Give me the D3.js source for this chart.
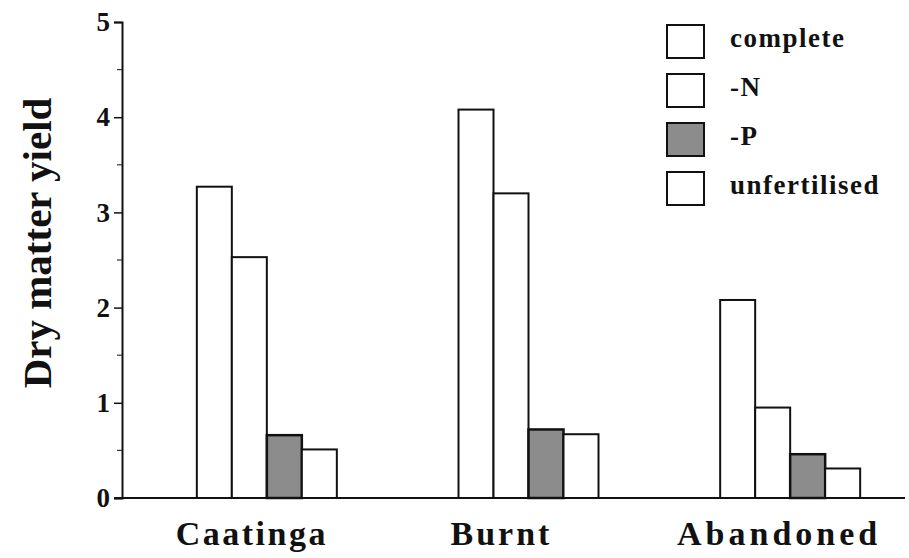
<!DOCTYPE html>
<html><head><meta charset="utf-8">
<script src="https://cdn.jsdelivr.net/npm/d3@7"></script>
<style>body{margin:0;background:#fff}svg{display:block} text{font-family:"Liberation Serif","DejaVu Serif",serif;font-weight:bold}</style>
</head><body>
<svg id="c" width="909" height="558"></svg>
<script>
const categories = ["Caatinga", "Burnt", "Abandoned"];
const series = ["complete", "-N", "-P", "unfertilised"];
const complete = [3.27, 4.08, 2.08];
const minusN = [2.53, 3.20, 0.95];
const minusP = [0.66, 0.72, 0.46];
const unfertilised = [0.51, 0.67, 0.31];
const yTicks = [0, 1, 2, 3, 4, 5];
const seriesValues = [complete, minusN, minusP, unfertilised];
const fills = ["#ffffff", "#ffffff", "#8c8c8c", "#ffffff"];

const svg = d3.select("#c");
const y = d3.scaleLinear().domain([0, 5]).range([498, 22]);
const x = d3.scalePoint().domain(categories).range([136, 921]).padding(0.5);
const xi = d3.scaleBand().domain(series).range([-70, 70]);

categories.forEach((c, ci) => {
  series.forEach((s, si) => {
    const v = seriesValues[si][ci];
    svg.append("rect")
      .attr("x", x(c) + xi(s))
      .attr("y", y(v))
      .attr("width", xi.bandwidth())
      .attr("height", y(0) - y(v))
      .attr("fill", fills[si])
      .attr("stroke", "#111")
      .attr("stroke-width", si === 2 ? 2.5 : 2);
  });
});

const yAxis = d3.axisLeft(y).tickValues(yTicks).tickSize(8).tickFormat(d3.format("d"));
const gy = svg.append("g").attr("transform", "translate(122,0)").call(yAxis);
gy.attr("font-family", null).attr("font-size", null);
gy.select(".domain").attr("stroke", "#111").attr("stroke-width", 2);
gy.selectAll(".tick line").attr("stroke", "#111").attr("stroke-width", 1.5);
gy.selectAll(".tick text").style("font-size", "27px").attr("fill", "#111").attr("dx", -1);
const minor = d3.range(0.5, 5, 1);
svg.append("g").selectAll("line").data(minor).join("line")
  .attr("x1", 117).attr("x2", 122).attr("y1", d => y(d)).attr("y2", d => y(d))
  .attr("stroke", "#333").attr("stroke-width", 1.2);

svg.append("line").attr("x1", 114).attr("x2", 905).attr("y1", y(0)).attr("y2", y(0))
  .attr("stroke", "#111").attr("stroke-width", 2);

const labelShift = [-15, -27, -11];
const labelSpacing = [2.5, 3, 4];
svg.append("g").selectAll("text").data(categories).join("text")
  .attr("x", (d, i) => x(d) + labelShift[i])
  .attr("y", 545)
  .attr("text-anchor", "middle")
  .style("font-size", "34px")
  .attr("letter-spacing", (d, i) => labelSpacing[i])
  .attr("fill", "#111")
  .text(d => d);

svg.append("text")
  .attr("transform", "translate(51,243) rotate(-90)")
  .attr("text-anchor", "middle")
  .style("font-size", "41px")
  .attr("fill", "#111")
  .text("Dry matter yield");

const leg = svg.append("g");
series.forEach((s, i) => {
  const yy = 25 + i * 49;
  leg.append("rect").attr("x", 667).attr("y", yy).attr("width", 37).attr("height", 33)
    .attr("fill", fills[i]).attr("stroke", "#111").attr("stroke-width", 2);
  leg.append("text").attr("x", 730).attr("y", yy + 22)
    .style("font-size", "27px")
    .attr("letter-spacing", 1.5)
    .attr("fill", "#111").text(s);
});
</script>
</body></html>
